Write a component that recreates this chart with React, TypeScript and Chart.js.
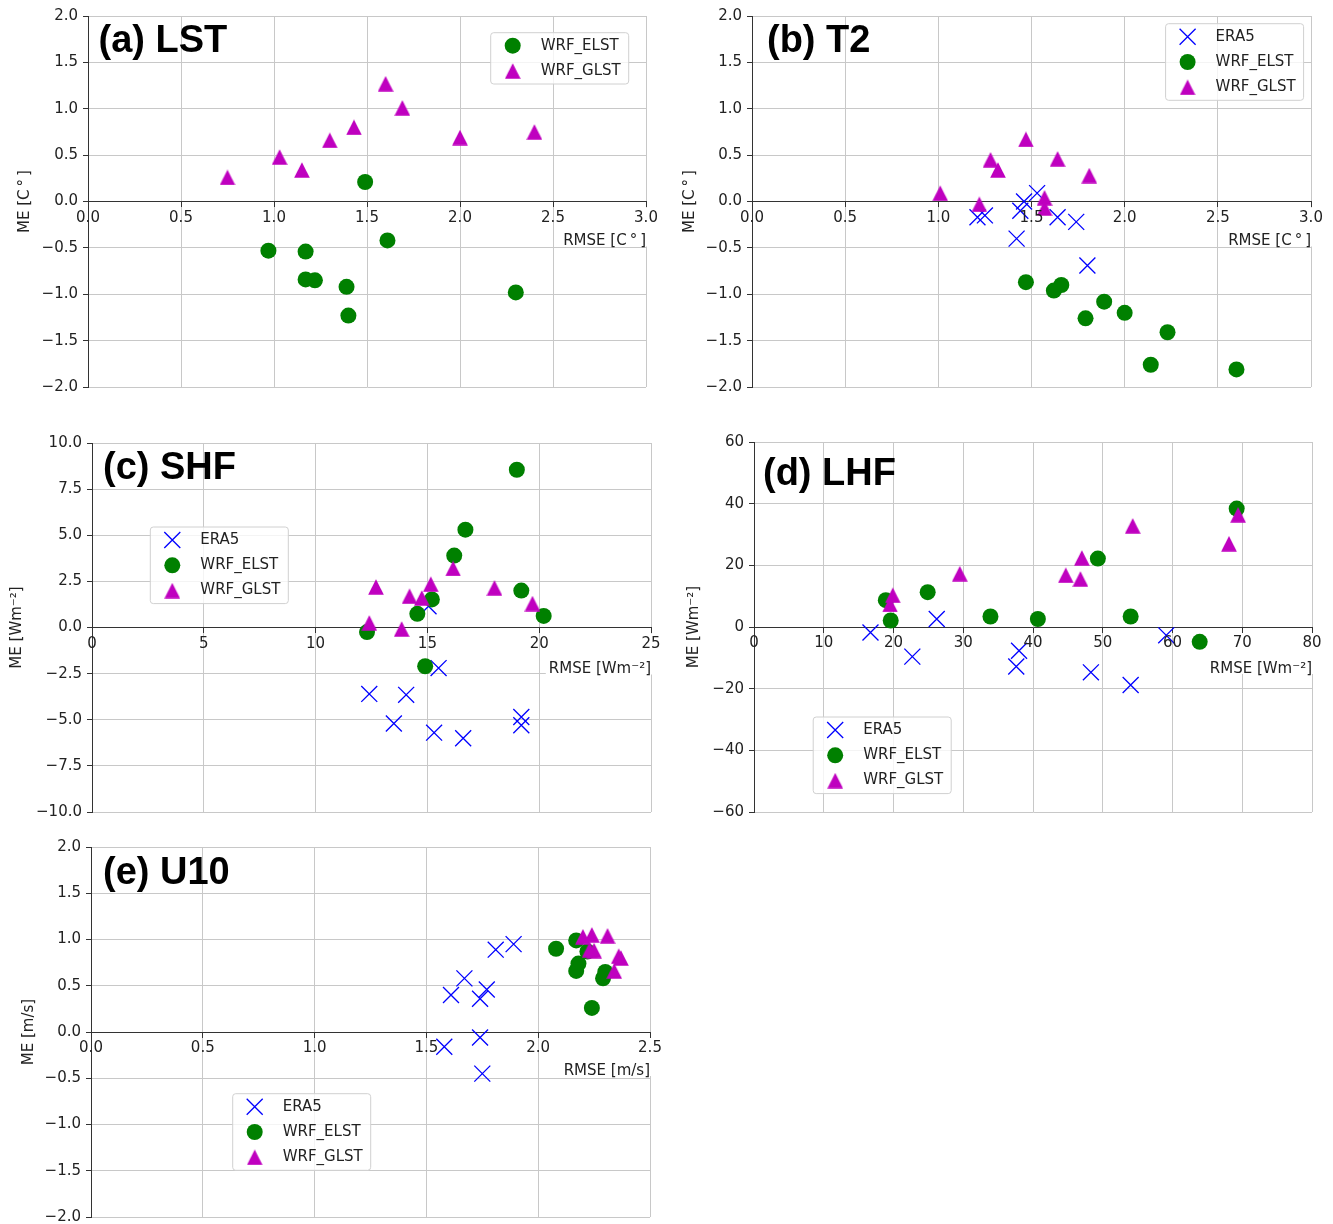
import React, { useEffect, useRef } from 'react';
import { Chart, registerables } from 'chart.js';

Chart.register(...registerables);

const FONT = '"DejaVu Sans", "Noto Sans", sans-serif';
const TITLE_FONT = 'bold 38px "Liberation Sans", Arial, sans-serif';

// ---------- tick values ----------
const ticksTempX = [0, 0.5, 1, 1.5, 2, 2.5, 3];
const ticksTempY = [-2, -1.5, -1, -0.5, 0, 0.5, 1, 1.5, 2];
const ticksShfX = [0, 5, 10, 15, 20, 25];
const ticksShfY = [-10, -7.5, -5, -2.5, 0, 2.5, 5, 7.5, 10];
const ticksLhfX = [0, 10, 20, 30, 40, 50, 60, 70, 80];
const ticksLhfY = [-60, -40, -20, 0, 20, 40, 60];
const ticksU10X = [0, 0.5, 1, 1.5, 2, 2.5];
const ticksU10Y = [-2, -1.5, -1, -0.5, 0, 0.5, 1, 1.5, 2];

// ---------- data: [RMSE, ME] ----------
// (a) LST
const lstElst = [[0.97, -0.53], [1.17, -0.54], [1.17, -0.84], [1.22, -0.85], [1.39, -0.92], [1.40, -1.23], [1.49, 0.21], [1.61, -0.42], [2.30, -0.98]];
const lstGlst = [[0.75, 0.26], [1.03, 0.48], [1.15, 0.34], [1.30, 0.66], [1.43, 0.80], [1.60, 1.27], [1.69, 1.01], [2.00, 0.69], [2.40, 0.75]];
// (b) T2
const t2Era5 = [[1.21, -0.17], [1.25, -0.15], [1.42, -0.40], [1.44, -0.10], [1.46, 0.0], [1.53, 0.09], [1.64, -0.17], [1.74, -0.22], [1.80, -0.69]];
const t2Elst = [[1.47, -0.87], [1.62, -0.96], [1.66, -0.90], [1.79, -1.26], [1.89, -1.08], [2.00, -1.20], [2.14, -1.76], [2.23, -1.41], [2.60, -1.81]];
const t2Glst = [[1.01, 0.09], [1.22, -0.03], [1.28, 0.45], [1.32, 0.34], [1.47, 0.67], [1.57, 0.04], [1.57, -0.07], [1.64, 0.46], [1.81, 0.28]];
// (c) SHF
const shfEra5 = [[12.4, -3.6], [13.5, -5.2], [14.05, -3.65], [15.05, 1.15], [15.5, -2.2], [15.3, -5.7], [16.6, -6.0], [19.2, -4.85], [19.2, -5.3]];
const shfElst = [[12.3, -0.25], [14.55, 0.74], [14.9, -2.1], [15.2, 1.52], [16.2, 3.9], [16.7, 5.3], [19.0, 8.55], [19.2, 2.0], [20.2, 0.63]];
const shfGlst = [[12.4, 0.25], [12.7, 2.2], [13.85, -0.08], [14.2, 1.7], [14.75, 1.6], [15.15, 2.35], [16.15, 3.2], [18.0, 2.15], [19.7, 1.3]];
// (d) LHF
const lhfEra5 = [[16.7, -1.8], [22.7, -9.6], [26.2, 2.6], [37.6, -12.8], [38.0, -7.7], [48.3, -14.7], [54.0, -18.8], [59.1, -2.7]];
const lhfElst = [[18.9, 8.7], [19.6, 2.1], [24.9, 11.3], [33.9, 3.4], [40.7, 2.6], [49.3, 22.2], [54.0, 3.4], [63.9, -4.8], [69.2, 38.4]];
const lhfGlst = [[19.5, 7.3], [19.9, 10.3], [29.5, 17.3], [44.7, 16.8], [47.0, 22.4], [46.8, 15.6], [54.3, 32.8], [68.1, 27.0], [69.4, 36.4]];
// (e) U10
const u10Era5 = [[1.58, -0.16], [1.61, 0.40], [1.67, 0.58], [1.74, -0.06], [1.74, 0.36], [1.77, 0.46], [1.75, -0.45], [1.81, 0.89], [1.89, 0.95]];
const u10Elst = [[2.08, 0.90], [2.17, 0.99], [2.18, 0.74], [2.17, 0.66], [2.22, 0.87], [2.24, 0.26], [2.29, 0.58], [2.30, 0.65]];
const u10Glst = [[2.20, 1.03], [2.24, 1.05], [2.31, 1.04], [2.23, 0.89], [2.25, 0.88], [2.36, 0.82], [2.37, 0.80], [2.34, 0.66]];

type Kind = 'cross' | 'circle' | 'triangle';
const COLORS: Record<Kind, string> = { cross: '#0000ff', circle: '#008000', triangle: '#bf00bf' };
const ORDER: Record<Kind, number> = { cross: 3, circle: 2, triangle: 1 };

interface Series { name: string; kind: Kind; data: number[][] }
interface Panel {
  id: string;
  title: string;
  box: { L: number; T: number; R: number; B: number };
  xMin: number; xMax: number; xTicks: number[]; xDec: number;
  yMin: number; yMax: number; yTicks: number[]; yDec: number;
  yTitle: string; yTitlePad: number;
  xTitle: string; xTitleDy: number;
  titleDx: number; titleDy: number;
  legendDx: number; legendDy: number;
  series: Series[];
}

const DEG = 'C\u2009°\u2009';

const panels: Panel[] = [
  {
    id: 'a', title: '(a) LST', box: { L: 88, T: 14, R: 646, B: 387 },
    xMin: 0, xMax: 3, xTicks: ticksTempX, xDec: 1, yMin: -2, yMax: 2, yTicks: ticksTempY, yDec: 1,
    yTitle: `ME [${DEG}]`, yTitlePad: 16, xTitle: `RMSE [${DEG}]`, xTitleDy: 40,
    titleDx: 10.5, titleDy: 36, legendDx: 402.7, legendDy: 16.7,
    series: [
      { name: 'WRF_ELST', kind: 'circle', data: lstElst },
      { name: 'WRF_GLST', kind: 'triangle', data: lstGlst },
    ],
  },
  {
    id: 'b', title: '(b) T2', box: { L: 752, T: 14, R: 1311, B: 387 },
    xMin: 0, xMax: 3, xTicks: ticksTempX, xDec: 1, yMin: -2, yMax: 2, yTicks: ticksTempY, yDec: 1,
    yTitle: `ME [${DEG}]`, yTitlePad: 17.5, xTitle: `RMSE [${DEG}]`, xTitleDy: 40,
    titleDx: 15, titleDy: 36, legendDx: 413.6, legendDy: 7.7,
    series: [
      { name: 'ERA5', kind: 'cross', data: t2Era5 },
      { name: 'WRF_ELST', kind: 'circle', data: t2Elst },
      { name: 'WRF_GLST', kind: 'triangle', data: t2Glst },
    ],
  },
  {
    id: 'c', title: '(c) SHF', box: { L: 92, T: 441, R: 651, B: 812 },
    xMin: 0, xMax: 25, xTicks: ticksShfX, xDec: 0, yMin: -10, yMax: 10, yTicks: ticksShfY, yDec: 1,
    yTitle: 'ME [Wm⁻²]', yTitlePad: 4.5, xTitle: 'RMSE [Wm⁻²]', xTitleDy: 42,
    titleDx: 11, titleDy: 36, legendDx: 58.3, legendDy: 84,
    series: [
      { name: 'ERA5', kind: 'cross', data: shfEra5 },
      { name: 'WRF_ELST', kind: 'circle', data: shfElst },
      { name: 'WRF_GLST', kind: 'triangle', data: shfGlst },
    ],
  },
  {
    id: 'd', title: '(d) LHF', box: { L: 754, T: 440, R: 1312, B: 812 },
    xMin: 0, xMax: 80, xTicks: ticksLhfX, xDec: 0, yMin: -60, yMax: 60, yTicks: ticksLhfY, yDec: 0,
    yTitle: 'ME [Wm⁻²]', yTitlePad: 19, xTitle: 'RMSE [Wm⁻²]', xTitleDy: 42,
    titleDx: 9, titleDy: 43, legendDx: 59.2, legendDy: 275,
    series: [
      { name: 'ERA5', kind: 'cross', data: lhfEra5 },
      { name: 'WRF_ELST', kind: 'circle', data: lhfElst },
      { name: 'WRF_GLST', kind: 'triangle', data: lhfGlst },
    ],
  },
  {
    id: 'e', title: '(e) U10', box: { L: 91, T: 845, R: 650, B: 1217 },
    xMin: 0, xMax: 2.5, xTicks: ticksU10X, xDec: 1, yMin: -2, yMax: 2, yTicks: ticksU10Y, yDec: 1,
    yTitle: 'ME [m/s]', yTitlePad: 17.5, xTitle: 'RMSE [m/s]', xTitleDy: 39,
    titleDx: 12, titleDy: 37, legendDx: 141.7, legendDy: 246.7,
    series: [
      { name: 'ERA5', kind: 'cross', data: u10Era5 },
      { name: 'WRF_ELST', kind: 'circle', data: u10Elst },
      { name: 'WRF_GLST', kind: 'triangle', data: u10Glst },
    ],
  },
];

const Y_AXIS_W = 88;
const PAD = { top: 12, right: 20, bottom: 20 };

function fmt(v: number, d: number): string {
  const s = Math.abs(v).toFixed(d);
  return v < -1e-9 ? '\u2212' + s : s;
}

function makeTriangle(): HTMLCanvasElement {
  const c = document.createElement('canvas');
  c.width = 16; c.height = 16;
  const g = c.getContext('2d')!;
  g.fillStyle = COLORS.triangle;
  g.beginPath();
  g.moveTo(8, 0.3);
  g.lineTo(15.8, 15.8);
  g.lineTo(0.2, 15.8);
  g.closePath();
  g.fill();
  return c;
}

function drawMarker(ctx: CanvasRenderingContext2D, kind: Kind, x: number, y: number, tri: HTMLCanvasElement) {
  if (kind === 'cross') {
    const d = 8;
    ctx.strokeStyle = COLORS.cross;
    ctx.lineWidth = 1.3;
    ctx.beginPath();
    ctx.moveTo(x - d, y - d); ctx.lineTo(x + d, y + d);
    ctx.moveTo(x - d, y + d); ctx.lineTo(x + d, y - d);
    ctx.stroke();
  } else if (kind === 'circle') {
    ctx.fillStyle = COLORS.circle;
    ctx.beginPath();
    ctx.arc(x, y, 8, 0, Math.PI * 2);
    ctx.fill();
  } else {
    ctx.drawImage(tri, x - 8, y - 8);
  }
}

const decorPlugin = {
  id: 'panelDecor',
  beforeDatasetsDraw(chart: any, _args: any, o: any) {
    const { ctx, chartArea } = chart;
    const y0 = chart.scales.y.getPixelForValue(0);
    ctx.save();
    ctx.font = `15px ${FONT}`;
    const w = ctx.measureText(o.xTitle).width;
    const cy = y0 + o.xTitleDy;
    ctx.fillStyle = '#ffffff';
    ctx.fillRect(chartArea.right - w - 3, y0 + 6, w + 5, cy + 5 - (y0 + 6));
    ctx.fillStyle = '#222222';
    ctx.textAlign = 'right';
    ctx.textBaseline = 'middle';
    ctx.fillText(o.xTitle, chartArea.right, cy);
    ctx.restore();
  },
  afterDatasetsDraw(chart: any, _args: any, o: any) {
    const { ctx, chartArea } = chart;
    const tri = o.tri as HTMLCanvasElement;
    ctx.save();
    ctx.font = TITLE_FONT;
    ctx.fillStyle = '#000000';
    ctx.textAlign = 'left';
    ctx.textBaseline = 'alphabetic';
    ctx.fillText(o.title, chartArea.left + o.titleDx, chartArea.top + o.titleDy);

    const items = o.items as { label: string; kind: Kind }[];
    const bx = chartArea.left + o.legendDx;
    const by = chartArea.top + o.legendDy;
    const bw = 138;
    const rowH = 25.3;
    const bh = 26 + rowH * (items.length - 1);
    const r = 3;
    ctx.beginPath();
    ctx.moveTo(bx + r, by);
    ctx.lineTo(bx + bw - r, by);
    ctx.arcTo(bx + bw, by, bx + bw, by + r, r);
    ctx.lineTo(bx + bw, by + bh - r);
    ctx.arcTo(bx + bw, by + bh, bx + bw - r, by + bh, r);
    ctx.lineTo(bx + r, by + bh);
    ctx.arcTo(bx, by + bh, bx, by + bh - r, r);
    ctx.lineTo(bx, by + r);
    ctx.arcTo(bx, by, bx + r, by, r);
    ctx.closePath();
    ctx.fillStyle = 'rgba(255,255,255,0.8)';
    ctx.fill();
    ctx.strokeStyle = '#d0d0d0';
    ctx.lineWidth = 1;
    ctx.stroke();

    ctx.font = `15px ${FONT}`;
    ctx.textBaseline = 'middle';
    items.forEach((it, i) => {
      const yy = by + 13 + rowH * i;
      drawMarker(ctx, it.kind, bx + 22, yy, tri);
      ctx.fillStyle = '#222222';
      ctx.fillText(it.label, bx + 50, yy);
    });
    ctx.restore();
  },
};

function PanelChart({ p }: { p: Panel }) {
  const ref = useRef<HTMLCanvasElement>(null);
  const left = p.box.L - Y_AXIS_W;
  const top = p.box.T - PAD.top;
  const W = p.box.R - p.box.L + Y_AXIS_W + PAD.right;
  const H = p.box.B - p.box.T + PAD.top + PAD.bottom;

  useEffect(() => {
    if (!ref.current) return;
    const tri = makeTriangle();
    const gridCommon = { color: '#c8c8c8', lineWidth: 1, tickLength: 5, tickColor: '#333333', drawTicks: true };
    const chart = new Chart(ref.current, {
      type: 'scatter',
      data: {
        datasets: p.series.map((s) => {
          const base: any = {
            label: s.name,
            data: s.data.map(([x, y]) => ({ x, y })),
            order: ORDER[s.kind],
          };
          if (s.kind === 'cross') {
            Object.assign(base, { pointStyle: 'crossRot', pointRadius: 11.3, borderColor: COLORS.cross, backgroundColor: COLORS.cross, borderWidth: 1.3 });
          } else if (s.kind === 'circle') {
            Object.assign(base, { pointStyle: 'circle', pointRadius: 8, borderColor: COLORS.circle, backgroundColor: COLORS.circle, borderWidth: 0 });
          } else {
            Object.assign(base, { pointStyle: tri, pointRadius: 8, borderColor: COLORS.triangle, backgroundColor: COLORS.triangle, borderWidth: 0 });
          }
          return base;
        }),
      },
      options: {
        animation: false,
        responsive: false,
        devicePixelRatio: 1,
        events: [],
        layout: { padding: { left: 0, top: PAD.top, right: PAD.right, bottom: PAD.bottom } },
        plugins: {
          legend: { display: false },
          tooltip: { enabled: false },
          panelDecor: {
            title: p.title, titleDx: p.titleDx, titleDy: p.titleDy,
            xTitle: p.xTitle, xTitleDy: p.xTitleDy,
            legendDx: p.legendDx, legendDy: p.legendDy,
            items: p.series.map((s) => ({ label: s.name, kind: s.kind })),
            tri,
          },
        } as any,
        scales: {
          x: {
            type: 'linear',
            min: p.xMin,
            max: p.xMax,
            position: { y: 0 } as any,
            afterBuildTicks: (s: any) => { s.ticks = p.xTicks.map((v) => ({ value: v })); },
            ticks: {
              callback: (v: any) => fmt(Number(v), p.xDec),
              font: { size: 15, family: FONT },
              color: '#222222',
              padding: 2.5,
              maxRotation: 0,
              autoSkip: false,
              z: 1,
            } as any,
            grid: gridCommon,
            border: { color: '#333333', width: 1 },
          },
          y: {
            type: 'linear',
            position: 'left',
            min: p.yMin,
            max: p.yMax,
            afterBuildTicks: (s: any) => { s.ticks = p.yTicks.map((v) => ({ value: v })); },
            afterFit: (s: any) => { s.width = Y_AXIS_W; },
            ticks: {
              callback: (v: any) => fmt(Number(v), p.yDec),
              font: { size: 15, family: FONT },
              color: '#222222',
              padding: 5,
              autoSkip: false,
            },
            grid: gridCommon,
            border: { color: '#333333', width: 1 },
            title: {
              display: true,
              text: p.yTitle,
              font: { size: 15, family: FONT },
              color: '#222222',
              padding: { top: p.yTitlePad, bottom: 0 },
            },
          },
        },
      },
      plugins: [decorPlugin as any],
    });
    return () => chart.destroy();
  }, []);

  return (
    <canvas
      ref={ref}
      width={W}
      height={H}
      style={{ position: 'absolute', left, top, width: W, height: H }}
    />
  );
}

export default function App() {
  return (
    <div style={{ position: 'absolute', left: 0, top: 0, width: 1333, height: 1224, background: '#ffffff' }}>
      {panels.map((p) => (
        <PanelChart key={p.id} p={p} />
      ))}
    </div>
  );
}
